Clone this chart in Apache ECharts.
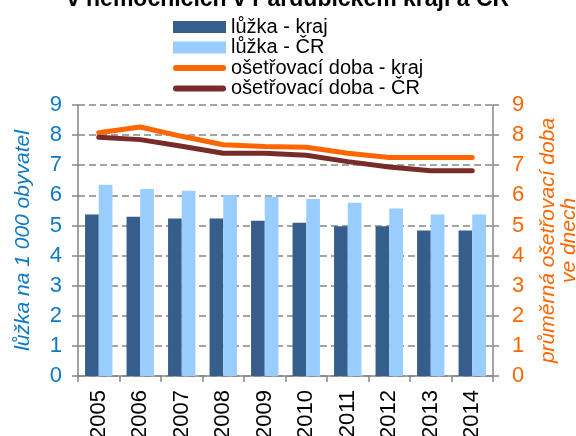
<!DOCTYPE html>
<html>
<head>
<meta charset="utf-8">
<script src="https://cdn.jsdelivr.net/npm/echarts@6/dist/echarts.min.js"></script>
<style>
  html, body { margin: 0; padding: 0; background: #fff; }
  #chart { width: 576px; height: 436px; }
</style>
</head>
<body>
<div id="chart"></div>
<script>
var years = ['2005', '2006', '2007', '2008', '2009', '2010', '2011', '2012', '2013', '2014'];
var luzkaKraj = [5.36, 5.29, 5.23, 5.23, 5.16, 5.09, 4.97, 4.97, 4.83, 4.83];
var luzkaCR = [6.35, 6.21, 6.15, 6.01, 5.95, 5.88, 5.75, 5.56, 5.36, 5.36];
var dobaKraj = [8.08, 8.27, 7.96, 7.68, 7.62, 7.6, 7.4, 7.26, 7.26, 7.26];
var dobaCR = [7.93, 7.85, 7.63, 7.4, 7.4, 7.33, 7.12, 6.94, 6.82, 6.82];

var colors = ['#365E8C', '#99CCFF', '#FF6600', '#772C2A'];
var gray = '#868686';
var blue = '#0E7AC4';
var orange = '#FF6600';
// rounded bar used as legend icon for the lines
var lineIcon = 'path://M3,0 H50 A3,3 0 0 1 50,6 H3 A3,3 0 0 1 3,0 Z';

var chartDom = document.getElementById('chart');
var myChart = echarts.init(chartDom);

var option = {
  color: colors,
  animation: false,
  textStyle: { fontFamily: 'Liberation Sans, Arial, sans-serif' },
  graphic: [{
    type: 'text',
    left: 'center',
    top: -12,
    style: {
      text: 'v nemocnicích v Pardubickém kraji a ČR',
      font: 'bold 23px Liberation Sans, Arial, sans-serif',
      fill: '#000'
    }
  }],
  legend: {
    orient: 'vertical',
    left: 168,
    top: 12,
    itemWidth: 53,
    itemHeight: 12,
    itemGap: 0.5,
    textStyle: { fontSize: 20, lineHeight: 20, color: '#000' },
    data: [
      { name: 'lůžka - kraj', icon: 'rect' },
      { name: 'lůžka - ČR', icon: 'rect' },
      { name: 'ošetřovací doba - kraj', icon: lineIcon },
      { name: 'ošetřovací doba - ČR', icon: lineIcon }
    ]
  },
  grid: { left: 78, right: 83, top: 105, bottom: 60, outerBoundsMode: 'none', containLabel: false },
  xAxis: {
    type: 'category',
    data: years,
    axisLine: { lineStyle: { color: gray, width: 1.5 } },
    axisTick: { show: true, length: 6, lineStyle: { color: gray, width: 1.5 } },
    axisLabel: { rotate: 90, fontSize: 22, color: '#000', margin: 14 }
  },
  yAxis: [
    {
      type: 'value',
      min: 0, max: 9, interval: 1,
      position: 'left',
      name: 'lůžka na 1 000 obyvatel',
      nameLocation: 'middle',
      nameRotate: 90,
      nameGap: 44,
      nameTextStyle: { color: blue, fontSize: 21, fontStyle: 'italic' },
      axisLine: { show: true, lineStyle: { color: gray, width: 1.5 } },
      axisTick: { show: true, length: 6, lineStyle: { color: gray, width: 1.5 } },
      axisLabel: { color: blue, fontSize: 22, margin: 16 },
      splitLine: { show: true, lineStyle: { color: gray, width: 1.5, type: [7, 4] } }
    },
    {
      type: 'value',
      min: 0, max: 9, interval: 1,
      position: 'right',
      name: 'průměrná ošetřovací doba\nve dnech',
      nameLocation: 'middle',
      nameRotate: 90,
      nameGap: 45,
      nameTextStyle: { color: orange, fontSize: 21, fontStyle: 'italic', lineHeight: 21, align: 'center' },
      axisLine: { show: true, lineStyle: { color: gray, width: 1.5 } },
      axisTick: { show: true, length: 6, lineStyle: { color: gray, width: 1.5 } },
      axisLabel: { color: orange, fontSize: 22, margin: 19 },
      splitLine: { show: false }
    }
  ],
  series: [
    {
      name: 'lůžka - kraj',
      type: 'bar',
      yAxisIndex: 0,
      barGap: '0%',
      barCategoryGap: '34%',
      data: luzkaKraj
    },
    {
      name: 'lůžka - ČR',
      type: 'bar',
      yAxisIndex: 0,
      data: luzkaCR
    },
    {
      name: 'ošetřovací doba - kraj',
      type: 'line',
      yAxisIndex: 1,
      symbol: 'none',
      lineStyle: { width: 5, cap: 'round' },
      data: dobaKraj
    },
    {
      name: 'ošetřovací doba - ČR',
      type: 'line',
      yAxisIndex: 1,
      symbol: 'none',
      lineStyle: { width: 5, cap: 'round' },
      data: dobaCR
    }
  ]
};
myChart.setOption(option);
</script>
</body>
</html>
